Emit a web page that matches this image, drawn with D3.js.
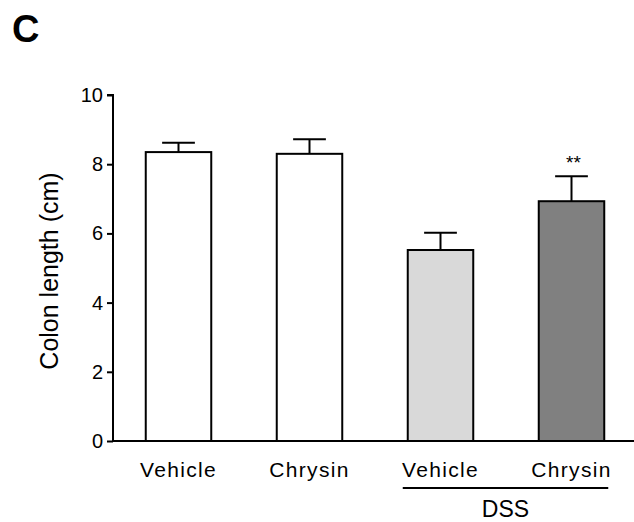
<!DOCTYPE html>
<html><head><meta charset="utf-8">
<script src="https://cdn.jsdelivr.net/npm/d3@7"></script>
<style>body{margin:0;background:#fff}svg{display:block}text{font-family:Arial,"Liberation Sans",sans-serif}</style>
</head><body>
<svg id="c" width="634" height="522"></svg>
<script>
const categories = ["Vehicle", "Chrysin", "Vehicle", "Chrysin"];
const means = [8.35, 8.30, 5.52, 6.93];
const errors = [0.27, 0.42, 0.50, 0.72];
const colors = ["#ffffff", "#ffffff", "#d9d9d9", "#808080"];
const significance = ["", "", "", "**"];
const yTicks = [0, 2, 4, 6, 8, 10];
const groupLabel = "DSS";
const yTitle = "Colon length (cm)";
const panelLabel = "C";

const svg = d3.select("#c");
const y = d3.scaleLinear().domain([0, 10]).range([441, 95]);
const x = d3.scaleBand().domain(d3.range(categories.length)).range([113, 637]).paddingInner(0.5).paddingOuter(0.25);

// bars
svg.selectAll("rect.bar").data(means).enter().append("rect")
  .attr("x", (d,i) => x(i)).attr("width", x.bandwidth())
  .attr("y", d => y(d)).attr("height", d => y(0) - y(d))
  .attr("fill", (d,i) => colors[i]).attr("stroke", "#000").attr("stroke-width", 2);

// error bars
const eb = svg.append("g").attr("stroke", "#000").attr("stroke-width", 2);
means.forEach((m,i) => {
  const cx = x(i) + x.bandwidth()/2;
  eb.append("line").attr("x1", cx).attr("x2", cx).attr("y1", y(m)).attr("y2", y(m+errors[i]));
  eb.append("line").attr("x1", cx - x.bandwidth()/4).attr("x2", cx + x.bandwidth()/4)
    .attr("y1", y(m+errors[i])).attr("y2", y(m+errors[i]));
});

// significance
svg.selectAll("text.sig").data(significance).enter().append("text")
  .attr("x", (d,i) => x(i) + x.bandwidth()/2 + 2).attr("y", (d,i) => y(means[i]+errors[i]) - 7)
  .attr("text-anchor", "middle").attr("font-size", 19).text(d => d);

// y axis
const yAxis = d3.axisLeft(y).tickValues(yTicks).tickSize(6).tickPadding(4);
const ga = svg.append("g").attr("transform", "translate(113,0)").call(yAxis);
ga.select(".domain").attr("stroke", "#000").attr("stroke-width", 2).attr("d", "M-6,95H0V441");
ga.selectAll(".tick line").attr("stroke", "#000").attr("stroke-width", 2);
ga.selectAll(".tick text").attr("font-size", 20).attr("fill", "#000")
  .style("font-family", "Arial, 'Liberation Sans', sans-serif");

// x axis line
svg.append("line").attr("x1", 112).attr("x2", 634).attr("y1", 441).attr("y2", 441)
  .attr("stroke", "#000").attr("stroke-width", 2);

// category labels
svg.selectAll("text.cat").data(categories).enter().append("text")
  .attr("x", (d,i) => x(i) + x.bandwidth()/2).attr("y", 477)
  .attr("text-anchor", "middle").attr("font-size", 21).attr("letter-spacing", 1.3).text(d => d);

// DSS group
const g0 = x(2) - 5, g1 = x(3) + x.bandwidth() + 4;
svg.append("line").attr("x1", g0).attr("x2", g1).attr("y1", 488).attr("y2", 488)
  .attr("stroke", "#000").attr("stroke-width", 2);
svg.append("text").attr("x", (g0+g1)/2).attr("y", 517).attr("text-anchor", "middle")
  .attr("font-size", 23).text(groupLabel);

// y title
svg.append("text").attr("transform", "translate(58,271) rotate(-90)")
  .attr("text-anchor", "middle").attr("font-size", 25).text(yTitle);

// panel label
svg.append("text").attr("x", 12).attr("y", 42).attr("font-size", 38).attr("font-weight", "bold").text(panelLabel);
</script>
</body></html>
